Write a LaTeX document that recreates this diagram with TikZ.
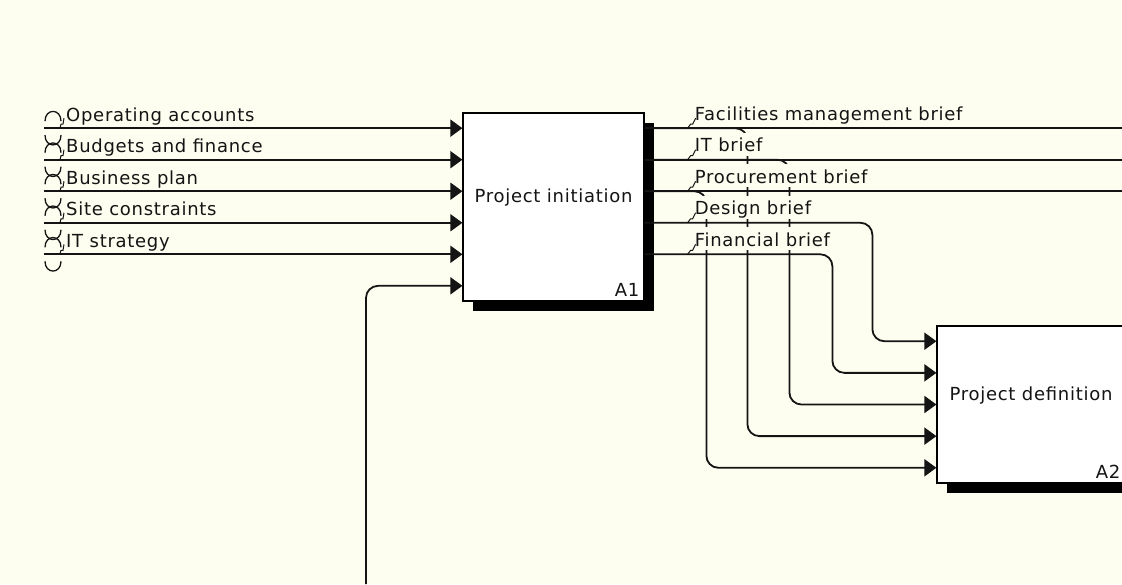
\documentclass[tikz,border=0pt]{standalone}
\usepackage{fontspec}
\newfontfamily\idefsans{DejaVu Sans}[LetterSpace=4.0]
\usetikzlibrary{arrows.meta,calc,shadows}
\definecolor{dgPaper}{HTML}{FEFEF0}
\definecolor{dgInk}{HTML}{141414}
\tikzset{
  actbox/.style={rectangle,draw=black,line width=1.2pt,fill=white,
    font=\idefsans\fontsize{18}{20}\selectfont,text=dgInk,
    text depth=22pt,
    drop shadow={shadow xshift=10pt,shadow yshift=-10pt,fill=black,opacity=1}},
  nodeid/.style={anchor=south east,inner sep=5pt,
    font=\idefsans\fontsize{18}{20}\selectfont,text=dgInk},
  lbl/.style={anchor=base west,inner sep=0pt,text height=19pt,text depth=4pt,
    fill=dgPaper,font=\idefsans\fontsize{18}{20}\selectfont,text=dgInk},
  flow/.style={-{Triangle[length=12pt,width=17pt]},line width=1.8pt,
    draw=dgInk,rounded corners=12pt},
  wire/.style={line width=1.8pt,draw=dgInk},
  tunnel/.style={line width=1.3pt,draw=dgInk},
  squig/.style={line width=1pt,draw=dgInk},
}
\begin{document}
\begin{tikzpicture}[x=1pt,y=-1pt]
  \useasboundingbox (0,0) rectangle (1122,584);
  \fill[dgPaper] (0,0) rectangle (1122,584);
  \clip (0,0) rectangle (1122,584);
  \coordinate (lrim) at (44,0);
  \coordinate (rim) at (1122,0);
  \coordinate (mech) at (366,584);

  % activities
  \node[actbox,minimum width=181pt,minimum height=188pt] (pinit) at (553.5,207)
    {Project initiation};
  \node[nodeid] (pinitid) at (pinit.south east) {A1};
  \node[actbox,minimum width=188pt,minimum height=157pt] (pdef) at (1031,404.5)
    {Project definition};
  \node[nodeid] (pdefid) at (pdef.south east) {A2};

  % arrow points on the box sides
  \foreach \k in {1,...,6}
    \coordinate (i\k) at ($(pinit.north west)!{(\k-0.5)/6}!(pinit.south west)$);
  \foreach \k in {1,...,5}
    \coordinate (o\k) at ($(pinit.north east)!{(\k-0.5)/6}!(pinit.south east)$);
  \foreach \k in {1,...,5}
    \coordinate (d\k) at ($(pdef.north west)!{(\k-0.5)/5}!(pdef.south west)$);
  \foreach \k in {1,...,5}
    \coordinate (src\k) at (i\k -| lrim);

  % inputs of A1
  \foreach \k in {1,...,5}
    \draw[flow] (src\k) -- (i\k);
  \draw[flow] (mech) |- (i6);

  % outputs of A1
  \foreach \k in {1,2,3}
    \draw[wire] (o\k) -- (o\k -| rim);
  \foreach \k/\j/\dx in {4/1/64,5/2/104,2/3/147,1/4/189,3/5/230}
    \draw[flow] (o\k) -| ([xshift=-\dx pt]d\j) -- (d\j);

  % tunnels at the left border
  \foreach \k in {1,...,5} {
    \draw[tunnel] ([shift={(1,-7)}]src\k) .. controls +(0,-13) and +(0,-13) .. ([shift={(17,-7)}]src\k);
    \draw[tunnel] ([shift={(1,7)}]src\k) .. controls +(0,13) and +(0,13) .. ([shift={(17,7)}]src\k);
  }

  % labels
  \foreach \k/\txt in {1/Operating accounts,2/Budgets and finance,3/Business plan,
                       4/Site constraints,5/IT strategy} {
    \node[lbl] (in\k) at ([shift={(22,-7)}]src\k) {\txt};
    \draw[squig] ([shift={(16,0)}]src\k) -- ++(1,-4) -- ++(2,0) -- ++(1,-6);
  }
  \foreach \k/\txt in {1/Facilities management brief,2/IT brief,3/Procurement brief,
                       4/Design brief,5/Financial brief} {
    \node[lbl] (out\k) at ([shift={(50,-8)}]o\k) {\txt};
    \draw[squig] ([shift={(43,0)}]o\k) -- ++(3,-4) -- ++(2,0) -- ++(3,-6);
  }
\end{tikzpicture}
\end{document}
